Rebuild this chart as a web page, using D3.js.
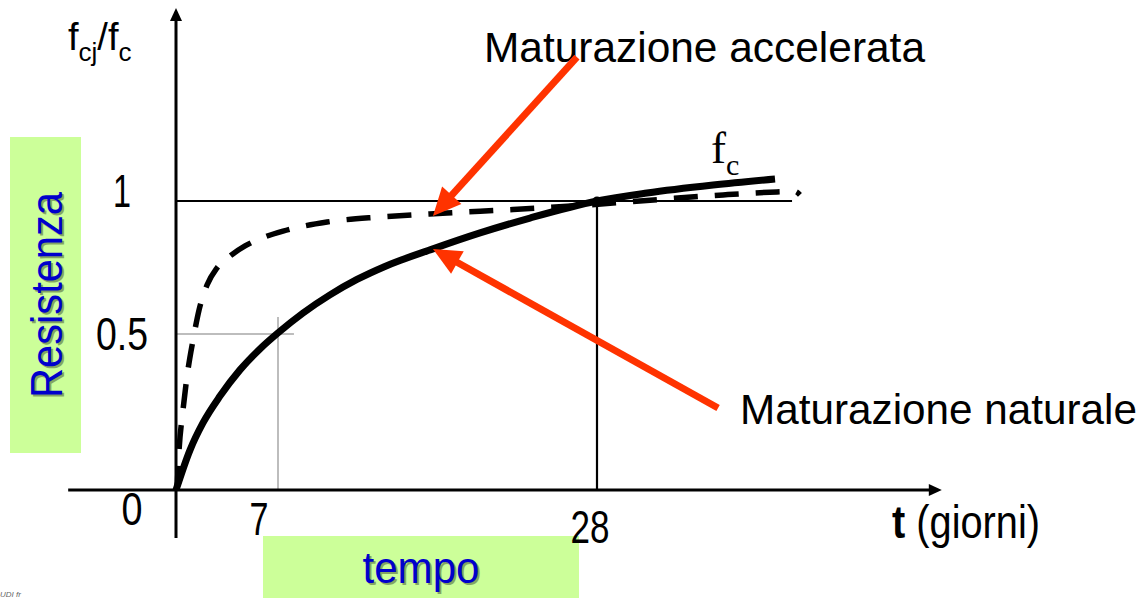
<!DOCTYPE html>
<html><head><meta charset="utf-8">
<script src="https://cdn.jsdelivr.net/npm/d3@7"></script>
<style>
html,body{margin:0;padding:0;background:#fff;}
svg{display:block;}
text{font-family:"Liberation Sans",Arial,sans-serif;}
</style></head>
<body>
<svg id="chart" width="1142" height="598"></svg>
<script>
// ---- data ----
const solidDays   = [0, 0.96, 1.85, 3.02, 4.39, 5.76, 7, 8.65, 10.42, 12.20, 14.04, 17.20, 20.30, 23.59, 28, 31.29, 35.64, 39.72];
const solidValues = [0, 0.128, 0.215, 0.301, 0.385, 0.452, 0.504, 0.579, 0.647, 0.705, 0.754, 0.820, 0.880, 0.936, 1, 1.030, 1.060, 1.083];
const dashedDays   = [0.07, 0.21, 0.48, 0.82, 1.17, 1.58, 2.13, 2.81, 3.71, 4.74, 5.90, 7.33, 10.23, 13.72, 18.13, 22.47, 26.88, 32.15, 36.30, 39.85, 41.03, 41.36];
const dashedValues = [0, 0.128, 0.256, 0.385, 0.481, 0.590, 0.684, 0.748, 0.793, 0.831, 0.861, 0.887, 0.921, 0.940, 0.955, 0.968, 0.983, 1.006, 1.023, 1.034, 1.036, 1.023];
const xTickDays   = [7, 28];
const xTickLabels = ["7", "28"];
const yTickValues = [0.5, 1];
const yTickLabels = ["0.5", "1"];
const refDay = 28, refValue = 1;        // f_c at 28 days
const earlyDay = 7, earlyValue = 0.5;   // gray guide
const arrowAccel = [[26.68, 1.541], [17.2, 0.944]];
const arrowNat   = [[35.97, 0.263], [17.2, 0.820]];

// ---- scales ----
const svg = d3.select("#chart");
const x = d3.scaleLinear().domain([0, 7, 28]).range([176, 278, 597]);
const y = d3.scaleLinear().domain([0, 0.5, 1]).range([490, 334, 201]);

const RED = "#FF3300";
const GREEN = "#CCFF99";
const BLUE = "#0000CC";

// green label boxes
svg.append("rect").attr("x", 10).attr("y", 137).attr("width", 71).attr("height", 316).attr("fill", GREEN);
svg.append("rect").attr("x", 263).attr("y", 536).attr("width", 316).attr("height", 62).attr("fill", GREEN);

function shadowText(g, txt, attrs, len) {
  const sh = g.append("text").text(txt).attr("fill", "#000").attr("opacity", 0.35);
  const t = g.append("text").text(txt).attr("fill", BLUE);
  for (const k in attrs) { sh.attr(k, attrs[k]); t.attr(k, attrs[k]); }
  sh.attr("transform", "translate(2,2) " + (attrs.transform || ""));
  if (len) { [sh, t].forEach(e => e.attr("textLength", len).attr("lengthAdjust", "spacingAndGlyphs")); }
}
shadowText(svg, "Resistenza", {"font-size": 45, "text-anchor": "middle", transform: "translate(62,295) rotate(-90)"}, 206);
shadowText(svg, "tempo", {"font-size": 45, "text-anchor": "middle", x: 421, y: 583}, 117);

// gray guides at 7 days / 0.5
svg.append("line").attr("x1", x(0)).attr("x2", x(8.05)).attr("y1", y(earlyValue)).attr("y2", y(earlyValue))
  .attr("stroke", "#BDBDBD").attr("stroke-width", 2);
svg.append("line").attr("x1", x(earlyDay)).attr("x2", x(earlyDay)).attr("y1", y(0)).attr("y2", y(0.564))
  .attr("stroke", "#BDBDBD").attr("stroke-width", 2);

// reference lines at 1 and 28 days
svg.append("line").attr("x1", x(0)).attr("x2", x(40.84)).attr("y1", y(refValue)).attr("y2", y(refValue))
  .attr("stroke", "#000").attr("stroke-width", 2);
svg.append("line").attr("x1", x(refDay)).attr("x2", x(refDay)).attr("y1", y(0)).attr("y2", y(refValue))
  .attr("stroke", "#000").attr("stroke-width", 2.2);

// axes
const xMin = -7.4, xMax = 50.7, yMin = -0.154, yMax = 1.726;
svg.append("line").attr("x1", x(xMin)).attr("x2", x(xMax) - 8).attr("y1", y(0)).attr("y2", y(0))
  .attr("stroke", "#000").attr("stroke-width", 3);
svg.append("path").attr("d", `M${x(xMax)},${y(0)} l-13,-6 l0,12 z`).attr("fill", "#000");
svg.append("line").attr("x1", x(0)).attr("x2", x(0)).attr("y1", y(yMin)).attr("y2", y(yMax) + 8)
  .attr("stroke", "#000").attr("stroke-width", 3);
svg.append("path").attr("d", `M${x(0)},${y(yMax)} l-6,13 l12,0 z`).attr("fill", "#000");

// curves
const line = d3.line().x(d => x(d[0])).y(d => y(d[1])).curve(d3.curveMonotoneX);
svg.append("path").datum(dashedDays.map((d, i) => [d, dashedValues[i]]))
  .attr("d", line).attr("fill", "none").attr("stroke", "#000").attr("stroke-width", 5.5)
  .attr("stroke-dasharray", "24,17");
svg.append("path").datum(solidDays.map((d, i) => [d, solidValues[i]]))
  .attr("d", line).attr("fill", "none").attr("stroke", "#000").attr("stroke-width", 7);
svg.append("circle").attr("cx", x(refDay)).attr("cy", y(refValue)).attr("r", 4.5).attr("fill", "#000");

// tick labels
svg.selectAll(".xt").data(xTickDays).join("text").attr("class", "xt")
  .attr("x", (d, i) => x(d) + (i === 0 ? -19 : -7)).attr("y", (d, i) => y(0) + (i === 0 ? 45 : 53))
  .attr("text-anchor", "middle").attr("font-size", 46)
  .attr("textLength", (d, i) => i === 0 ? 19 : 39).attr("lengthAdjust", "spacingAndGlyphs")
  .text((d, i) => xTickLabels[i]);
svg.selectAll(".yt").data(yTickValues).join("text").attr("class", "yt")
  .attr("x", 122).attr("y", (d, i) => y(d) + (i === 0 ? 16 : 6))
  .attr("text-anchor", "middle").attr("font-size", 46)
  .attr("textLength", (d, i) => i === 0 ? 52 : 18).attr("lengthAdjust", "spacingAndGlyphs")
  .text((d, i) => yTickLabels[i]);
svg.append("text").attr("x", 132).attr("y", y(0) + 35).attr("text-anchor", "middle").attr("font-size", 46)
  .attr("textLength", 21).attr("lengthAdjust", "spacingAndGlyphs").text("0");

// axis titles
const yt = svg.append("text").attr("x", 68).attr("y", 50).attr("font-size", 38);
yt.append("tspan").text("f");
yt.append("tspan").attr("font-size", 26).attr("dy", 11).text("cj");
yt.append("tspan").attr("dy", -11).text("/f");
yt.append("tspan").attr("font-size", 26).attr("dy", 11).text("c");

const xt = svg.append("text").attr("x", 892).attr("y", 538).attr("font-size", 46)
  .attr("textLength", 148).attr("lengthAdjust", "spacingAndGlyphs");
xt.append("tspan").attr("font-weight", "bold").text("t");
xt.append("tspan").text(" (giorni)");

// f_c label (serif)
const serif = "'Liberation Serif','Times New Roman',serif";
const fc = svg.append("text").attr("x", 711).attr("y", 163).attr("font-family", serif).attr("font-size", 45);
fc.append("tspan").attr("font-family", serif).text("f");
fc.append("tspan").attr("font-family", serif).attr("font-size", 30).attr("dy", 12).text("c");

// annotations
svg.append("text").attr("x", 484).attr("y", 62).attr("font-size", 43)
  .attr("textLength", 441).attr("lengthAdjust", "spacingAndGlyphs").text("Maturazione accelerata");
svg.append("text").attr("x", 740).attr("y", 424).attr("font-size", 42)
  .attr("textLength", 397).attr("lengthAdjust", "spacingAndGlyphs").text("Maturazione naturale");

function arrow(pts) {
  const [x0, y0] = [x(pts[0][0]), y(pts[0][1])];
  const [x1, y1] = [x(pts[1][0]), y(pts[1][1])];
  const ang = Math.atan2(y1 - y0, x1 - x0);
  const L = 28, W = 13;
  const bx = x1 - L * Math.cos(ang), by = y1 - L * Math.sin(ang);
  svg.append("line").attr("x1", x0).attr("y1", y0).attr("x2", bx + 2 * Math.cos(ang)).attr("y2", by + 2 * Math.sin(ang))
    .attr("stroke", RED).attr("stroke-width", 7);
  const px = -Math.sin(ang), py = Math.cos(ang);
  svg.append("path").attr("d", `M${x1},${y1} L${bx + W * px},${by + W * py} L${bx - W * px},${by - W * py} Z`).attr("fill", RED);
}
arrow(arrowAccel);
arrow(arrowNat);

// tiny footer mark
svg.append("text").attr("x", 0).attr("y", 597).attr("font-size", 8).attr("font-style", "italic")
  .attr("font-family", serif).attr("fill", "#666").text("UDI fr");
</script>
</body></html>
